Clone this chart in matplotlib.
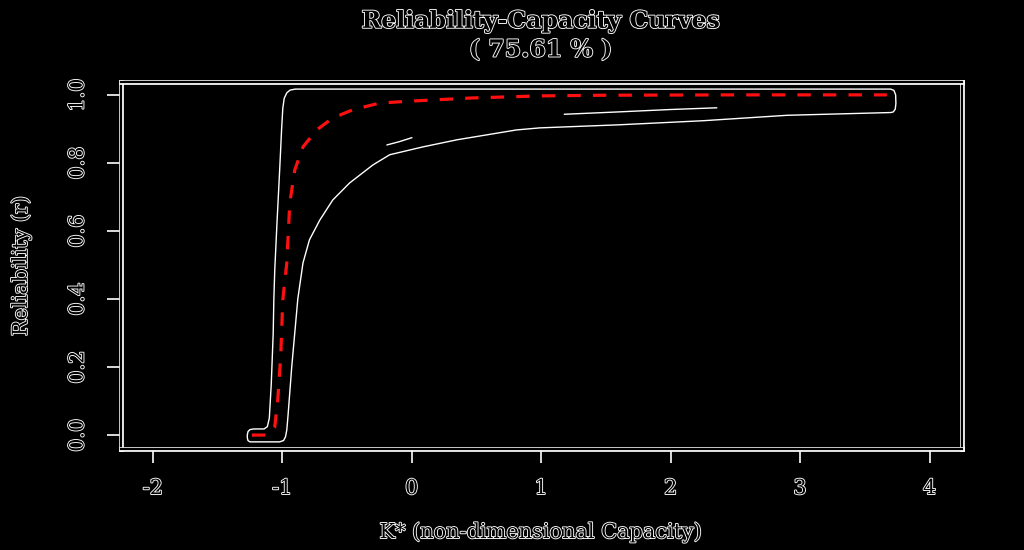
import matplotlib
matplotlib.use("Agg")
import matplotlib.pyplot as plt
import matplotlib.patheffects as pe
import numpy as np

# outer envelope of the simulated curves (upper/left edge, then lower/right edge)
upper_x = [-1.27, -1.265, -1.25, -1.22, -1.14, -1.115, -1.10, -1.085, -1.07, -1.065, -1.058, -1.04, -1.02, -1.005, -0.996, -0.985, -0.965, -0.94, -0.90, 3.70, 3.725, 3.738, 3.74, 3.735, 3.72, 3.70]
upper_y = [0.0, 0.010, 0.016, 0.018, 0.018, 0.025, 0.05, 0.15, 0.30, 0.40, 0.485, 0.63, 0.78, 0.90, 0.96, 0.99, 1.006, 1.014, 1.017, 1.017, 1.013, 1.0, 0.975, 0.958, 0.95, 0.948]
lower_x = [3.69, 2.9, 2.25, 1.6, 0.99, 0.81, 0.35, 0.085, -0.17, -0.30, -0.48, -0.61, -0.71, -0.79, -0.84, -0.88, -0.927, -0.955, -0.965, -0.975, -0.99, -1.02, -1.25, -1.265, -1.27]
lower_y = [0.948, 0.94, 0.924, 0.912, 0.903, 0.897, 0.868, 0.847, 0.824, 0.794, 0.741, 0.691, 0.632, 0.574, 0.506, 0.40, 0.2, 0.06, 0.015, -0.005, -0.016, -0.02, -0.02, -0.016, -0.008]

# stray inner edges
seg1_x = [-0.19, -0.10, 0.0]
seg1_y = [0.853, 0.862, 0.874]
seg2_x = [1.18, 1.6, 2.0, 2.355]
seg2_y = [0.943, 0.950, 0.957, 0.962]

# median curve
med_x = [-1.235, -1.12, -1.058, -1.035, -1.012, -0.996, -0.965, -0.942, -0.903, -0.84, -0.734, -0.61, -0.456, -0.247, 0.008, 0.471, 0.988, 1.5, 2.5, 3.67]
med_y = [0.0, 0.0, 0.024, 0.103, 0.23, 0.397, 0.506, 0.682, 0.78, 0.847, 0.897, 0.932, 0.956, 0.976, 0.982, 0.991, 0.997, 0.999, 1.0, 1.0]

xticks = [-2, -1, 0, 1, 2, 3, 4]
yticks = [0.0, 0.2, 0.4, 0.6, 0.8, 1.0]
title = "Reliability-Capacity Curves\n( 75.61 % )"

plt.rcParams['font.family'] = ['DejaVu Serif']
outline = [pe.withStroke(linewidth=1.3, foreground='white')]

fig = plt.figure(figsize=(10.24, 5.5), dpi=100, facecolor='black')
ax = fig.add_axes([0.118, 0.1836, 0.821, 0.6674], facecolor='black')

ax.fill(upper_x + lower_x, upper_y + lower_y, facecolor='black', edgecolor='white', linewidth=1.0)
ax.plot(seg1_x, seg1_y, color='white', linewidth=1.0)
ax.plot(seg2_x, seg2_y, color='white', linewidth=1.0)
ax.plot(med_x, med_y, color='#ff1010', linewidth=2.3, dashes=(4.2, 3.8))

ax.set_xlim(-2.247, 4.247)
ax.set_ylim(-0.041, 1.038)
ax.set_xticks(xticks)
ax.set_yticks(yticks)
ax.set_xticklabels([str(t) for t in xticks])
ax.set_yticklabels(["%.1f" % t for t in yticks])

for s in ax.spines.values():
    s.set_color('black')
    s.set_linewidth(1.6)
    s.set_path_effects([pe.Stroke(linewidth=3.4, foreground='white'), pe.Normal()])

ax.tick_params(axis='both', colors='white', length=10, width=1.2, labelsize=15, labelcolor='black')
ax.tick_params(axis='x', pad=18.5)
ax.tick_params(axis='y', pad=14, labelrotation=90)
for lbl in ax.get_xticklabels() + ax.get_yticklabels():
    lbl.set_path_effects(outline)
    lbl.set_verticalalignment('center')

ax.set_xlabel("K* (non-dimensional Capacity)", fontsize=15, color='black', path_effects=outline)
ax.xaxis.set_label_coords(0.5, -0.2)
ax.set_ylabel("Reliability (r)", fontsize=15, color='black', path_effects=outline)
ax.yaxis.set_label_coords(-0.107, 0.5)

fig.text(0.528, 0.936, title, ha='center', va='center', fontsize=17, fontweight='bold',
         color='black', path_effects=outline, linespacing=1.25)

fig.savefig("out.png", dpi=100, facecolor='black')
